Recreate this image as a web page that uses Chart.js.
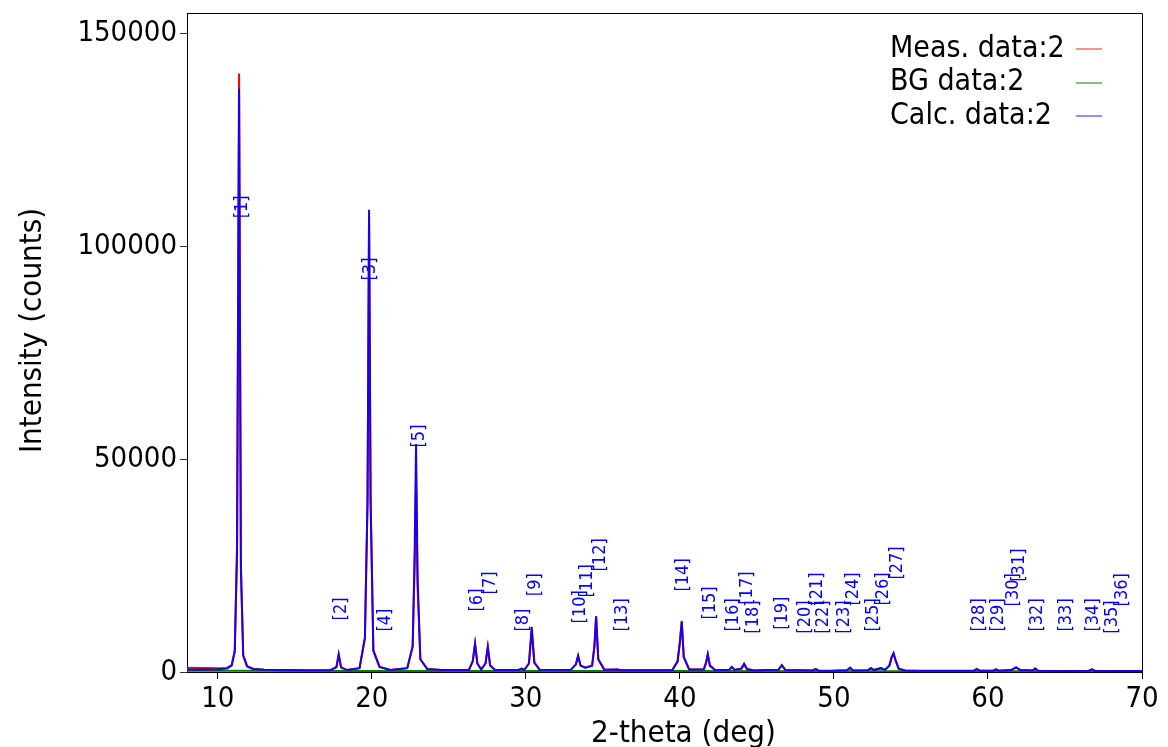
<!DOCTYPE html>
<html>
<head>
<meta charset="utf-8">
<title>XRD pattern</title>
<script src="https://cdn.jsdelivr.net/npm/chart.js@4.4.1/dist/chart.umd.min.js"></script>
<style>
  html, body { margin: 0; padding: 0; background: #fff; }
  #wrap { width: 1168px; height: 747px; position: relative; }
</style>
</head>
<body>
<div id="wrap"><canvas id="xrd"></canvas></div>
<script>
// ---- data ----
const twoTheta = [
  8.0, 9.0, 10.0, 10.6, 10.9, 11.1, 11.25, 11.38, 11.5, 11.65, 11.9, 12.3, 13.0, 14.5, 16.0,
  17.3, 17.7, 17.85, 18.0, 18.4, 19.2, 19.55, 19.72, 19.82, 19.92, 20.1, 20.5, 21.2,
  22.3, 22.65, 22.78, 22.87, 22.97, 23.15, 23.6, 24.5, 26.3, 26.55, 26.7, 26.85, 27.1,
  27.38, 27.53, 27.68, 28.0, 29.5, 29.72, 29.9, 30.2, 30.38, 30.55, 30.9, 32.9, 33.25,
  33.39, 33.55, 33.85, 34.3, 34.45, 34.56, 34.7, 35.1, 35.95, 36.2, 39.5, 39.85, 40.0,
  40.12, 40.25, 40.6, 41.55, 41.7, 41.81, 41.95, 42.3, 43.2, 43.37, 43.55, 44.0, 44.17,
  44.35, 44.8, 46.4, 46.62, 46.85, 48.6, 48.82, 49.0, 49.5, 50.0, 50.85, 51.05, 51.25,
  52.2, 52.4, 52.6, 53.05, 53.3, 53.6, 53.75, 53.87, 54.0, 54.2, 54.6, 56.0, 58.0, 59.1,
  59.28, 59.45, 60.35, 60.52, 60.7, 61.5, 61.83, 62.1, 62.9, 63.07, 63.25, 65.0, 66.55,
  66.75, 66.95, 68.5, 70.0
];
const measured = [
  1000, 950, 900, 950, 1600, 5000, 30000, 140500, 25000, 4000, 1400, 700, 500, 300, 320,
  400, 1200, 4200, 1100, 450, 900, 8000, 40000, 107000, 40000, 5000, 1200, 500,
  900, 6000, 25000, 45500, 20000, 3000, 700, 450, 450, 2500, 6600, 2000, 600,
  2000, 5900, 1500, 450, 450, 800, 500, 2000, 9800, 2200, 500, 450, 1800,
  3800, 1500, 1000, 1500, 6000, 13100, 3000, 500, 600, 400, 400, 2500, 7000,
  12000, 3500, 600, 600, 2200, 4200, 1500, 400, 500, 1200, 500, 800, 1900,
  700, 350, 500, 1600, 450, 350, 700, 300, 150, 300, 400, 1000, 350,
  400, 900, 450, 900, 500, 1500, 3500, 4400, 2800, 800, 350, 150, 250, 300,
  700, 300, 300, 600, 300, 450, 1100, 450, 350, 800, 300, 250, 300,
  600, 250, 200, 100
];
const calculated = [
  600, 600, 620, 800, 1500, 4800, 28000, 137000, 24000, 3800, 1300, 700, 550, 450, 420,
  420, 1100, 4100, 1100, 450, 900, 8000, 40000, 108500, 40000, 5000, 1200, 500,
  900, 6000, 28000, 53500, 22000, 3000, 700, 450, 450, 2500, 6600, 2000, 600,
  2000, 5900, 1500, 450, 450, 800, 500, 2000, 10600, 2200, 500, 450, 1800,
  3800, 1500, 1000, 1500, 6000, 13100, 3000, 500, 600, 400, 400, 2500, 7000,
  11800, 3500, 600, 600, 2200, 4100, 1500, 400, 500, 1200, 500, 800, 1900,
  700, 350, 500, 1600, 450, 350, 700, 300, 300, 300, 400, 1000, 350,
  400, 900, 450, 900, 500, 1500, 3500, 4400, 2800, 800, 350, 300, 300, 300,
  700, 300, 300, 600, 300, 450, 1100, 450, 350, 800, 300, 250, 300,
  600, 250, 250, 250
];
const bgTheta = [8, 10, 20, 30, 40, 50, 60, 70];
const background = [300, 280, 250, 230, 210, 200, 190, 180];

const peakTheta = [
  11.57, 18.0, 19.88, 20.86, 23.06, 26.83, 27.68, 29.82, 30.6, 33.52, 33.97, 34.82,
  36.25, 40.21, 41.96, 43.45, 44.36, 44.75, 46.64, 48.13, 48.91, 49.3, 50.66, 51.25,
  52.55, 53.19, 54.1, 59.43, 60.66, 61.64, 62.03, 63.19, 65.08, 66.83, 68.06, 68.71
];
const peakLabelAt = [
  109200, 14800, 94600, 12200, 55400, 16900, 20900, 12200, 20500, 15300, 21400, 27500,
  13400, 22800, 16200, 13400, 19700, 12900, 13800, 12900, 19500, 12900, 12900, 19500,
  13400, 19500, 25600, 13400, 13400, 19300, 25100, 13400, 13400, 13400, 12900, 19300
];
const peakNames = peakTheta.map((_, i) => '[' + (i + 1) + ']');

const xTicks = [10, 20, 30, 40, 50, 60, 70];
const yTicks = [0, 50000, 100000, 150000];

const FONT = "'DejaVu Sans Condensed', 'DejaVu Sans', sans-serif";

const pts = (xs, ys) => xs.map((x, i) => ({ x, y: ys[i] }));

// frame on top and right side
const frame = {
  id: 'frame',
  afterDraw(chart) {
    const { ctx, chartArea: a } = chart;
    ctx.save();
    ctx.strokeStyle = '#000';
    ctx.lineWidth = 1;
    ctx.beginPath();
    ctx.moveTo(Math.round(a.left) + 0.5, Math.round(a.top) + 0.5);
    ctx.lineTo(Math.round(a.right) + 0.5, Math.round(a.top) + 0.5);
    ctx.lineTo(Math.round(a.right) + 0.5, Math.round(a.bottom) + 0.5);
    ctx.stroke();
    ctx.restore();
  }
};

// axis titles, a little off-centre as in the original
const axisTitles = {
  id: 'axisTitles',
  afterDraw(chart) {
    const { ctx, chartArea: a } = chart;
    ctx.save();
    ctx.fillStyle = '#000';
    ctx.font = '31px ' + FONT;
    ctx.textAlign = 'center';
    ctx.textBaseline = 'alphabetic';
    ctx.fillText('2-theta (deg)', (a.left + a.right) / 2 + 19, a.bottom + 70);
    ctx.translate(41, (a.top + a.bottom) / 2 - 12);
    ctx.rotate(-Math.PI / 2);
    ctx.fillText('Intensity (counts)', 0, 0);
    ctx.restore();
  }
};

// reflection index labels
const peakLabels = {
  id: 'peakLabels',
  afterDatasetsDraw(chart) {
    const { ctx, scales: { x, y } } = chart;
    ctx.save();
    ctx.fillStyle = '#0000ff';
    ctx.font = '18px ' + FONT;
    ctx.textAlign = 'center';
    ctx.textBaseline = 'middle';
    peakTheta.forEach((t, i) => {
      ctx.save();
      ctx.translate(x.getPixelForValue(t), y.getPixelForValue(peakLabelAt[i]));
      ctx.rotate(-Math.PI / 2);
      ctx.fillText(peakNames[i], 0, 0);
      ctx.restore();
    });
    ctx.restore();
  }
};

// legend: text then a short line sample on the right
const sideLegend = {
  id: 'sideLegend',
  afterDraw(chart) {
    const { ctx, chartArea: a } = chart;
    const textX = a.right - 252;
    const lineX0 = a.right - 66, lineX1 = a.right - 40;
    ctx.save();
    ctx.font = '30px ' + FONT;
    ctx.textAlign = 'left';
    ctx.textBaseline = 'middle';
    chart.data.datasets.forEach((ds, i) => {
      const yy = a.top + 36 + i * 33.7;
      ctx.fillStyle = '#000';
      ctx.fillText(ds.label, textX, yy);
      ctx.strokeStyle = ds.legendColor;
      ctx.lineWidth = 1;
      ctx.beginPath();
      ctx.moveTo(lineX0, Math.round(yy));
      ctx.lineTo(lineX1, Math.round(yy));
      ctx.stroke();
    });
    ctx.restore();
  }
};

new Chart(document.getElementById('xrd'), {
  type: 'line',
  data: {
    datasets: [
      {
        label: 'Meas. data:2',
        data: pts(twoTheta, measured),
        borderColor: '#ff0000',
        legendColor: '#ff2020',
        borderWidth: 2,
        order: 3,
      },
      {
        label: 'BG data:2',
        data: pts(bgTheta, background),
        borderColor: '#008000',
        legendColor: '#008000',
        borderWidth: 2,
        order: 2,
      },
      {
        label: 'Calc. data:2',
        data: pts(twoTheta, calculated),
        borderColor: '#1a00ee',
        legendColor: '#2020ff',
        borderWidth: 2,
        order: 1,
      },
    ],
  },
  options: {
    responsive: true,
    maintainAspectRatio: false,
    animation: false,
    layout: { padding: { top: 13, right: 26, left: 0, bottom: 0 } },
    elements: {
      point: { radius: 0 },
      line: { tension: 0, fill: false },
    },
    plugins: {
      legend: { display: false },
      tooltip: { enabled: false },
    },
    scales: {
      x: {
        type: 'linear',
        min: 8,
        max: 70,
        afterFit: (s) => { s.height = 75; s.paddingLeft = 0; s.paddingRight = 0; },
        afterBuildTicks: (s) => { s.ticks = xTicks.map(v => ({ value: v })); },
        ticks: { color: '#000', padding: 3, font: { family: FONT, size: 29 }, callback: (v) => String(v) },
        grid: { display: true, drawOnChartArea: false, drawTicks: true, tickLength: 7, color: '#000' },
        border: { display: true, color: '#000' },
        title: { display: false },
      },
      y: {
        type: 'linear',
        min: 0,
        max: 154700,
        afterFit: (s) => { s.width = 187; s.paddingTop = 0; s.paddingBottom = 0; },
        afterBuildTicks: (s) => { s.ticks = yTicks.map(v => ({ value: v })); },
        ticks: { color: '#000', padding: 3, font: { family: FONT, size: 29 }, callback: (v) => String(v) },
        grid: { display: true, drawOnChartArea: false, drawTicks: true, tickLength: 7, color: '#333' },
        border: { display: true, color: '#000' },
        title: { display: false },
      },
    },
  },
  plugins: [frame, axisTitles, peakLabels, sideLegend],
});
</script>
</body>
</html>
